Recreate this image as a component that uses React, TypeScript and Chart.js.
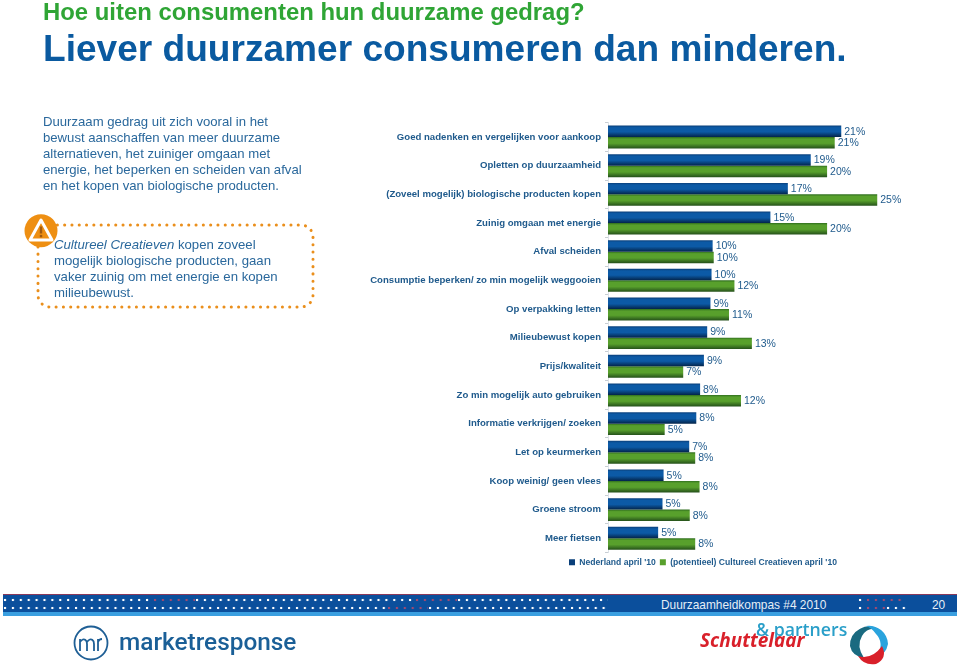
import React, { useEffect, useRef } from "react";
import { Chart, registerables } from "chart.js";

Chart.register(...registerables);

const categories = [
  "Goed nadenken en vergelijken voor aankoop",
  "Opletten op duurzaamheid",
  "(Zoveel mogelijk) biologische producten kopen",
  "Zuinig omgaan met energie",
  "Afval scheiden",
  "Consumptie beperken/ zo min mogelijk weggooien",
  "Op verpakking letten",
  "Milieubewust kopen",
  "Prijs/kwaliteit",
  "Zo min mogelijk auto gebruiken",
  "Informatie verkrijgen/ zoeken",
  "Let op keurmerken",
  "Koop weinig/ geen vlees",
  "Groene stroom",
  "Meer fietsen",
];
const nederland = [21.4, 18.6, 16.5, 14.9, 9.6, 9.5, 9.4, 9.1, 8.8, 8.45, 8.1, 7.45, 5.1, 5.0, 4.6];
const creatieven = [20.8, 20.1, 24.7, 20.1, 9.7, 11.6, 11.1, 13.2, 6.9, 12.2, 5.2, 8.0, 8.4, 7.5, 8.0];
const seriesNames = ["Nederland april '10", "(potentieel) Cultureel Creatieven april '10"];

const introLines = [
  "Duurzaam gedrag uit zich vooral in het",
  "bewust aanschaffen van meer duurzame",
  "alternatieven, het zuiniger omgaan met",
  "energie, het beperken en scheiden van afval",
  "en het kopen van biologische producten.",
];
const calloutLines = [
  "mogelijk biologische producten, gaan",
  "vaker zuinig om met energie en kopen",
  "milieubewust.",
];

const FONT = '"Liberation Sans", Arial, sans-serif';
const TEXT = "#1f5a8c";
const BLUE = ["#0a3f7a", "#0c5aa6", "#03244a"];
const GREEN = ["#2f6e1e", "#58a02c", "#24501a"];

function barGradient(stops: string[], side: number) {
  return (c: any) => {
    const y = c.chart.scales?.y;
    if (c.type !== "data" || !y) return stops[1];
    const mid = y.getPixelForValue(c.dataIndex);
    const half = (y.getPixelForValue(1) - y.getPixelForValue(0)) * 0.4;
    if (!Number.isFinite(mid) || !Number.isFinite(half) || half <= 0) return stops[1];
    const a = side < 0 ? mid - half : mid;
    const g = c.chart.ctx.createLinearGradient(0, a, 0, a + half);
    g.addColorStop(0, stops[0]);
    g.addColorStop(0.18, stops[1]);
    g.addColorStop(0.55, stops[1]);
    g.addColorStop(1, stops[2]);
    return g;
  };
}

const valueLabels = {
  id: "valueLabels",
  afterDatasetsDraw(chart: any) {
    const ctx = chart.ctx;
    ctx.save();
    ctx.font = `10.5px ${FONT}`;
    ctx.fillStyle = TEXT;
    ctx.textBaseline = "middle";
    ctx.textAlign = "left";
    chart.data.datasets.forEach((ds: any, d: number) => {
      chart.getDatasetMeta(d).data.forEach((el: any, i: number) => {
        ctx.fillText(`${Math.round(ds.data[i])}%`, el.x + 3, el.y + 0.5);
      });
    });
    ctx.restore();
  },
};

const placeLegend = {
  id: "placeLegend",
  afterLayout(chart: any) {
    const l = chart.legend;
    const w = l.width;
    const h = l.height;
    l.left = 565;
    l.right = 565 + w;
    l.top = 554;
    l.bottom = 554 + h;
  },
};

function Dots({ x, y, w, color = "#fff" }: { x: number; y: number; w: number; color?: string }) {
  return (
    <div
      style={{
        position: "absolute",
        left: x,
        top: y,
        width: w,
        height: 4,
        backgroundImage: `radial-gradient(circle at 2px 2px, ${color} 1.1px, transparent 1.6px)`,
        backgroundSize: "7.9px 4px",
      }}
    />
  );
}

const RED_DOT = "#a04a72";

function abs(left: number, top: number, extra: React.CSSProperties = {}): React.CSSProperties {
  return { position: "absolute", left, top, whiteSpace: "nowrap", fontFamily: FONT, ...extra };
}

export default function App() {
  const ref = useRef<HTMLCanvasElement>(null);
  useEffect(() => {
    const chart = new Chart(ref.current as HTMLCanvasElement, {
      type: "bar",
      data: {
        labels: categories,
        datasets: [
          {
            label: seriesNames[0],
            data: nederland,
            backgroundColor: barGradient(BLUE, -1),
            categoryPercentage: 0.8,
            barPercentage: 1,
          },
          {
            label: seriesNames[1],
            data: creatieven,
            backgroundColor: barGradient(GREEN, 1),
            categoryPercentage: 0.8,
            barPercentage: 1,
          },
        ],
      },
      options: {
        indexAxis: "y",
        animation: false,
        responsive: false,
        layout: { padding: { left: 0, right: 25, top: 122.7, bottom: 93.8 } },
        plugins: {
          tooltip: { enabled: false },
          legend: {
            position: "bottom",
            align: "start",
            labels: {
              boxWidth: 6,
              boxHeight: 6,
              padding: 4,
              color: TEXT,
              font: { family: FONT, size: 8.6, weight: "bold" },
              generateLabels(c: any) {
                const items = (Chart as any).defaults.plugins.legend.labels.generateLabels(c);
                items[0].fillStyle = BLUE[0];
                items[1].fillStyle = GREEN[1];
                return items;
              },
            },
          },
        },
        scales: {
          x: { display: false, min: 0, max: 30 },
          y: {
            afterFit(s: any) {
              s.width = 608;
            },
            border: { color: "#dde3e8" },
            grid: { drawOnChartArea: false, tickLength: 3, color: "#c8ced4" },
            ticks: {
              padding: 4,
              color: TEXT,
              autoSkip: false,
              font: { family: FONT, size: 9.6, weight: "bold" },
            },
          },
        },
      },
      plugins: [valueLabels, placeLegend],
    } as any);
    return () => chart.destroy();
  }, []);

  return (
    <div style={{ position: "absolute", left: 0, top: 0, width: 960, height: 669, background: "#fff", overflow: "hidden" }}>
      <canvas ref={ref} width={960} height={669} style={{ position: "absolute", left: 0, top: 0, display: "block" }} />

      <div style={abs(43, -1, { fontSize: 23.9, fontWeight: 700, color: "#2fa535", lineHeight: "26px" })}>
        Hoe uiten consumenten hun duurzame gedrag?
      </div>
      <div style={abs(43, 28, { fontSize: 37.1, fontWeight: 700, color: "#0a5aa0", lineHeight: "40px" })}>
        Liever duurzamer consumeren dan minderen.
      </div>

      <div style={abs(43, 113.5, { fontSize: 13.15, color: "#2a689c", lineHeight: "16px" })}>
        {introLines.map((l) => (
          <div key={l}>{l}</div>
        ))}
      </div>

      <svg width={340} height={110} style={{ position: "absolute", left: 0, top: 210 }}>
        <rect x={38} y={15} width={275} height={82} rx={12} fill="none" stroke="#ea8f1c" strokeWidth={3} strokeLinecap="round" strokeDasharray="0.1 7.2" />
        <circle cx={41} cy={20.7} r={16.5} fill="#ee8f12" />
        <path d="M41 10 L52 30 H30 Z" fill="none" stroke="#fff" strokeWidth={3} strokeLinejoin="round" />
        <rect x={39.8} y={16.5} width={2.4} height={7} fill="#a05a10" />
        <rect x={39.8} y={24.9} width={2.4} height={2.4} fill="#a05a10" />
      </svg>
      <div style={abs(54, 236.5, { fontSize: 13.2, color: "#2a689c", lineHeight: "16px" })}>
        <div>
          <i>Cultureel Creatieven</i> kopen zoveel
        </div>
        {calloutLines.map((l) => (
          <div key={l}>{l}</div>
        ))}
      </div>

      <div style={{ position: "absolute", left: 3, top: 594, width: 954, height: 22, background: "#0b4f9c", borderTop: "1px solid #8a3a5a", boxSizing: "border-box" }} />
      <div style={{ position: "absolute", left: 3, top: 612, width: 954, height: 4, background: "#3a9fe0" }} />
      <Dots x={3} y={598} w={150} />
      <Dots x={153} y={598} w={42} color={RED_DOT} />
      <Dots x={195} y={598} w={220} />
      <Dots x={415} y={598} w={42} color={RED_DOT} />
      <Dots x={457} y={598} w={151} />
      <Dots x={3} y={605.5} w={384} />
      <Dots x={387} y={605.5} w={41} color={RED_DOT} />
      <Dots x={428} y={605.5} w={180} />
      <Dots x={858} y={598} w={8} />
      <Dots x={866} y={598} w={40} color={RED_DOT} />
      <Dots x={858} y={605.5} w={8} />
      <Dots x={866} y={605.5} w={20} color={RED_DOT} />
      <Dots x={886} y={605.5} w={20} />
      <div style={abs(661, 596, { fontSize: 11.9, color: "#e6eef6", lineHeight: "18px" })}>Duurzaamheidkompas #4 2010</div>
      <div style={abs(932, 596, { fontSize: 11.9, color: "#e6eef6", lineHeight: "18px" })}>20</div>

      <svg width={44} height={44} style={{ position: "absolute", left: 69, top: 621 }}>
        <circle cx={22} cy={22} r={16.5} fill="none" stroke="#1f5f95" strokeWidth={1.8} />
        <path d="M11 30 V18 M11 21 q3 -4 5.5 -2 q1.5 1 1.5 4 V30 M18 21 q3 -4 5.5 -2 q1.5 1 1.5 4 V30 M29 30 V18 M29 21 q1 -3 4 -3" fill="none" stroke="#1f5f95" strokeWidth={1.8} />
      </svg>
      <div style={abs(119, 625, { fontSize: 24.4, fontWeight: 500, color: "#1a5f97", lineHeight: "34px", fontFamily: "Roboto, sans-serif" })}>
        marketresponse
      </div>

      <div style={abs(756, 617, { fontSize: 17.7, fontWeight: 600, color: "#2a9fc9", lineHeight: "24px", fontFamily: '"Open Sans", sans-serif' })}>
        & partners
      </div>
      <div style={abs(700, 627, { fontSize: 19, fontWeight: 700, fontStyle: "italic", color: "#d9202a", lineHeight: "26px", fontFamily: '"Open Sans", sans-serif' })}>
        Schuttelaar
      </div>
      <svg width={46} height={46} style={{ position: "absolute", left: 846, top: 622 }}>
        <path d="M4 24 A19 19 0 0 1 34 8 Q22 4 16 14 Q10 24 18 36 Q6 34 4 24 Z" fill="#1a6a80" />
        <path d="M20 4 A19 19 0 0 1 42 22 Q40 32 32 34 Q38 20 30 12 Q26 6 20 4 Z" fill="#2aa3dd" />
        <path d="M12 34 Q26 38 36 24 Q42 36 30 42 Q18 44 12 34 Z" fill="#d9202a" />
      </svg>
    </div>
  );
}
